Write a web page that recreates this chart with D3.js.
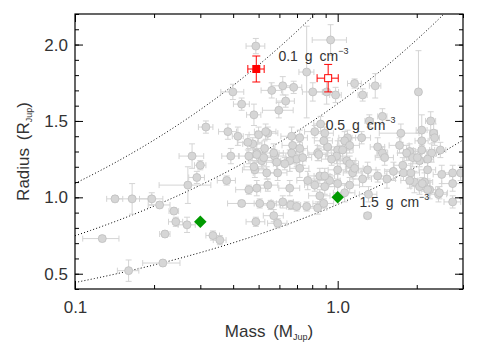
<!DOCTYPE html>
<html lang="en">
<head>
<meta charset="UTF-8">
<script src="https://d3js.org/d3.v7.min.js"></script>
<style>
  body { margin: 0; background: #fff; }
  text { font-family: "Liberation Sans", Arial, sans-serif; fill: #333; }
</style>
</head>
<body>
<svg id="chart" width="480" height="352"></svg>
<script>
// known planets (grey), Jupiter masses / radii with errors
var grayMass = [0.127,0.142,0.165,0.196,0.21,0.238,0.242,0.267,0.22,0.16,0.216,0.269,0.291,0.30,0.279,0.315,0.382,0.417,0.392,0.378,0.335,0.356,0.431,0.399,
  0.488,0.94,0.762,0.561,0.618,0.68,0.804,0.908,0.982,0.634,0.597,0.48,0.431,1.16,1.245,1.39,2.03,1.48,1.32,2.26,1.74,2.09,2.32,0.861,
  1.09,1.234,1.063,1.72,2.09,2.34,1.42,1.48,2.09,2.28,2.46,1.88,1.93,2.20,2.05,1.0,0.50,0.542,0.668,0.717,0.893,
  0.475,0.527,0.492,0.575,0.514,0.674,0.717,0.668,0.698,0.657,0.839,0.916,0.991,0.948,1.045,1.111,1.082,0.586,0.629,0.717,0.591,0.537,0.484,0.769,0.855,0.932,1.0,1.111,0.818,0.893,0.657,0.542,0.492,0.855,1.063,0.459,
  0.459,0.492,0.523,0.48,0.571,0.736,0.847,0.532,0.455,0.818,0.885,0.893,0.505,0.556,0.618,0.663,0.698,0.762,0.839,0.885,0.571,0.488,0.591,
  1.31,1.30,1.54,1.63,1.78,1.90,1.96,2.05,2.24,2.42,2.74,2.49,2.74,2.94,2.14,1.245,1.14,1.30,1.0,1.51,1.83,2.01,1.111,1.16,1.42,1.77,2.20,2.74,1.88,2.10,2.20,2.44];
var grayMassErr = [0.02,0.01,0.025,0.02,0.02,0.01,0.015,0.02,0.01,0.015,0.035,0.06,0.02,0.015,0.03,0.02,0.03,0.02,0.03,0.03,0.02,0.02,0.05,0.04,
  0.04,0.14,0.05,0.05,0.06,0.05,0.07,0.10,0.05,0.05,0.08,0.03,0.03,0.07,0.05,0.07,0.05,0.06,0.05,0.10,0.30,0.10,0.08,0.05,
  0.08,0.10,0.06,0.15,0.12,0.10,0.09,0.07,0.15,0.10,0.12,0.10,0.14,0.12,0.10,0.08,0.04,0.05,0.06,0.05,0.07,
  0.04,0.05,0.04,0.06,0.05,0.06,0.05,0.07,0.06,0.05,0.07,0.08,0.09,0.08,0.10,0.10,0.09,0.05,0.06,0.06,0.05,0.06,0.05,0.07,0.08,0.09,0.09,0.10,0.07,0.08,0.06,0.05,0.04,0.08,0.10,0.05,
  0.04,0.04,0.05,0.04,0.05,0.06,0.07,0.05,0.04,0.07,0.07,0.08,0.08,0.05,0.06,0.06,0.06,0.07,0.07,0.08,0.05,0.04,0.05,
  0.10,0.04,0.12,0.12,0.14,0.15,0.12,0.15,0.16,0.18,0.20,0.18,0.25,0.22,0.16,0.10,0.09,0.10,0.08,0.12,0.14,0.15,0.09,0.09,0.11,0.13,0.16,0.20,0.14,0.15,0.16,0.18];
var grayRadius = [0.73,0.99,0.99,0.99,0.95,0.91,0.84,0.82,0.76,0.52,0.57,1.08,1.13,1.21,1.27,1.46,1.43,1.40,1.27,1.11,0.75,0.72,0.96,1.69,
  1.99,2.03,1.82,1.70,1.73,1.72,1.69,1.69,1.67,1.63,1.57,1.54,1.61,1.745,1.67,1.73,1.69,1.53,1.50,1.50,1.42,1.44,1.42,1.48,
  1.39,1.39,1.37,1.34,1.37,1.39,1.33,1.29,1.31,1.29,1.31,1.30,1.26,1.25,1.24,1.31,1.41,1.42,1.40,1.39,1.42,
  1.35,1.32,1.29,1.27,1.24,1.34,1.32,1.29,1.25,1.24,1.29,1.33,1.27,1.25,1.31,1.34,1.24,1.23,1.22,1.19,1.16,1.16,1.18,1.11,1.14,1.11,1.09,1.08,1.08,1.07,1.06,1.08,1.06,1.01,1.03,1.05,
  1.27,1.28,1.26,1.20,1.29,1.26,1.28,1.43,1.36,1.43,1.37,1.14,0.96,0.95,0.97,0.95,0.94,0.94,0.93,0.96,0.88,0.84,0.83,
  1.02,0.88,1.12,1.17,1.16,1.16,1.10,1.07,1.05,1.02,0.97,1.15,1.09,1.16,1.10,1.12,1.16,1.18,1.18,1.26,1.29,1.26,1.22,1.19,1.14,1.21,1.18,1.16,1.11,1.09,1.05,1.03];
var grayRadiusErr = [0.02,0.02,0.10,0.04,0.02,0.02,0.03,0.05,0.02,0.07,0.02,0.12,0.04,0.03,0.08,0.04,0.05,0.06,0.05,0.03,0.03,0.03,0.02,0.05,
  0.05,0.10,0.30,0.05,0.06,0.04,0.06,0.08,0.05,0.04,0.05,0.07,0.04,0.03,0.04,0.08,0.27,0.05,0.04,0.06,0.06,0.10,0.06,0.05,
  0.05,0.04,0.06,0.05,0.08,0.05,0.06,0.04,0.07,0.06,0.05,0.05,0.06,0.05,0.04,0.06,0.05,0.04,0.06,0.05,0.04,
  0.04,0.05,0.06,0.04,0.05,0.05,0.04,0.06,0.05,0.07,0.05,0.06,0.05,0.04,0.06,0.05,0.07,0.05,0.04,0.06,0.05,0.04,0.05,0.06,0.05,0.04,0.06,0.05,0.04,0.05,0.05,0.04,0.05,0.04,0.06,0.03,
  0.05,0.04,0.05,0.04,0.06,0.05,0.04,0.05,0.05,0.04,0.06,0.05,0.03,0.03,0.04,0.03,0.03,0.03,0.04,0.03,0.04,0.03,0.03,
  0.05,0.02,0.06,0.06,0.05,0.06,0.07,0.05,0.06,0.05,0.04,0.06,0.05,0.05,0.06,0.05,0.04,0.05,0.06,0.05,0.05,0.04,0.05,0.05,0.04,0.05,0.06,0.05,0.05,0.04,0.05,0.04];

// highlighted planets
var redMass = [0.49, 0.92];
var redMassErr = [0.035, 0.085];
var redRadius = [1.84, 1.78];
var redRadiusErr = [0.085, 0.09];
var redFilled = [true, false];

var greenMass = [0.30, 1.0];
var greenRadius = [0.84, 1.0];

// iso-density curves (g cm^-3) and their labels
var curveDensity = [0.1, 0.31, 1.5];
var densityLabels = ["0.1", "0.5", "1.5"];
var labelMass = [0.595, 0.90, 1.21];
var labelRadius = [1.895, 1.44, 0.935];
var jupiterDensity = 1.30;

// ticks
var xMajor = [0.1, 1.0];
var xMinor = [0.2, 0.3, 0.4, 0.5, 0.6, 0.7, 0.8, 0.9, 2, 3];
var yMajor = [0.5, 1.0, 1.5, 2.0];
var yMinor = d3.range(4, 23).map(function (d) { return d / 10; });

var box = { left: 75, right: 463, top: 14, bottom: 289 };

var x = d3.scaleLog().domain([0.1, 3.0]).range([box.left, box.right]);
var y = d3.scaleLinear().domain([0.4, 2.2]).range([box.bottom, box.top]);

var svg = d3.select("#chart");

svg.append("defs").append("clipPath").attr("id", "plot")
  .append("rect").attr("x", box.left).attr("y", box.top)
  .attr("width", box.right - box.left).attr("height", box.bottom - box.top);

var plot = svg.append("g").attr("clip-path", "url(#plot)");

// density curves
var samples = d3.range(0, 101).map(function (i) { return 0.1 * Math.pow(30, i / 100); });
var line = d3.line()
  .x(function (d) { return x(d[0]); })
  .y(function (d) { return y(d[1]); });

curveDensity.forEach(function (rho) {
  var pts = samples.map(function (m) { return [m, Math.cbrt(m * jupiterDensity / rho)]; });
  plot.append("path")
    .attr("d", line(pts))
    .attr("fill", "none")
    .attr("stroke", "#000")
    .attr("stroke-width", 1)
    .attr("stroke-dasharray", "1,2.2");
});

// error bar helper
function errorBar(g, m, me, r, re, color, cap) {
  g.append("line")
    .attr("x1", x(m - me)).attr("x2", x(m + me))
    .attr("y1", y(r)).attr("y2", y(r))
    .attr("stroke", color);
  g.append("line")
    .attr("x1", x(m)).attr("x2", x(m))
    .attr("y1", y(r - re)).attr("y2", y(r + re))
    .attr("stroke", color);
  [m - me, m + me].forEach(function (v) {
    g.append("line")
      .attr("x1", x(v)).attr("x2", x(v))
      .attr("y1", y(r) - cap).attr("y2", y(r) + cap)
      .attr("stroke", color);
  });
  [r - re, r + re].forEach(function (v) {
    g.append("line")
      .attr("x1", x(m) - cap).attr("x2", x(m) + cap)
      .attr("y1", y(v)).attr("y2", y(v))
      .attr("stroke", color);
  });
}

// grey planets
var grayG = plot.append("g");
grayMass.forEach(function (m, i) {
  errorBar(grayG, m, grayMassErr[i], grayRadius[i], grayRadiusErr[i], "#d4d4d4", 3);
});
grayMass.forEach(function (m, i) {
  grayG.append("circle")
    .attr("cx", x(m)).attr("cy", y(grayRadius[i]))
    .attr("r", 4)
    .attr("fill", "#d6d6d6")
    .attr("stroke", "#bfbfbf")
    .attr("stroke-width", 0.8);
});

// red planets
redMass.forEach(function (m, i) {
  errorBar(plot, m, redMassErr[i], redRadius[i], redRadiusErr[i], "#ff0000", 4);
  var s = redFilled[i] ? 8 : 7;
  plot.append("rect")
    .attr("x", x(m) - s / 2).attr("y", y(redRadius[i]) - s / 2)
    .attr("width", s).attr("height", s)
    .attr("fill", redFilled[i] ? "#ff0000" : "#fff")
    .attr("stroke", "#ff0000")
    .attr("stroke-width", redFilled[i] ? 0 : 1);
});

// green planets
greenMass.forEach(function (m, i) {
  plot.append("path")
    .attr("d", d3.symbol().type(d3.symbolDiamond2).size(100)())
    .attr("transform", "translate(" + x(m) + "," + y(greenRadius[i]) + ")")
    .attr("fill", "#009a00");
});

// density labels
densityLabels.forEach(function (lab, i) {
  var t = svg.append("text")
    .attr("x", x(labelMass[i])).attr("y", y(labelRadius[i]))
    .attr("font-size", 14)
    .attr("word-spacing", 3);
  t.append("tspan").text(lab + " g cm");
  t.append("tspan").attr("font-size", 9).attr("dy", -7).text("\u22123");
});

// axes
svg.append("rect")
  .attr("x", box.left).attr("y", box.top)
  .attr("width", box.right - box.left).attr("height", box.bottom - box.top)
  .attr("fill", "none").attr("stroke", "#000").attr("stroke-width", 1.2);

function drawAxis(axis, tx, ty) {
  var g = svg.append("g").attr("transform", "translate(" + tx + "," + ty + ")").call(axis);
  g.select(".domain").remove();
  g.selectAll("line").attr("stroke", "#000");
  g.selectAll("text").attr("font-size", 17).attr("font-family", "Liberation Sans, Arial, sans-serif").attr("fill", "#333");
  return g;
}

var fmt = d3.format(".1f");
drawAxis(d3.axisBottom(x).tickValues(xMajor).tickSize(-8).tickPadding(12).tickFormat(fmt), 0, box.bottom);
drawAxis(d3.axisBottom(x).tickValues(xMinor).tickSize(-4).tickFormat(""), 0, box.bottom);
drawAxis(d3.axisTop(x).tickValues(xMajor).tickSize(-8).tickFormat(""), 0, box.top);
drawAxis(d3.axisTop(x).tickValues(xMinor).tickSize(-4).tickFormat(""), 0, box.top);
drawAxis(d3.axisLeft(y).tickValues(yMajor).tickSize(-8).tickPadding(7).tickFormat(fmt), box.left, 0);
drawAxis(d3.axisLeft(y).tickValues(yMinor).tickSize(-4).tickFormat(""), box.left, 0);
drawAxis(d3.axisRight(y).tickValues(yMajor).tickSize(-8).tickFormat(""), box.right, 0);
drawAxis(d3.axisRight(y).tickValues(yMinor).tickSize(-4).tickFormat(""), box.right, 0);

// axis titles
var xt = svg.append("text")
  .attr("x", (box.left + box.right) / 2).attr("y", 337)
  .attr("text-anchor", "middle").attr("font-size", 17)
  .attr("word-spacing", 3);
xt.append("tspan").text("Mass (M");
xt.append("tspan").attr("font-size", 9).attr("dy", 3).text("Jup");
xt.append("tspan").attr("dy", -3).text(")");

var yt = svg.append("text")
  .attr("transform", "translate(29," + ((box.top + box.bottom) / 2) + ") rotate(-90)")
  .attr("text-anchor", "middle").attr("font-size", 17)
  .attr("word-spacing", 3);
yt.append("tspan").text("Radius (R");
yt.append("tspan").attr("font-size", 9).attr("dy", 3).text("Jup");
yt.append("tspan").attr("dy", -3).text(")");
</script>
</body>
</html>
